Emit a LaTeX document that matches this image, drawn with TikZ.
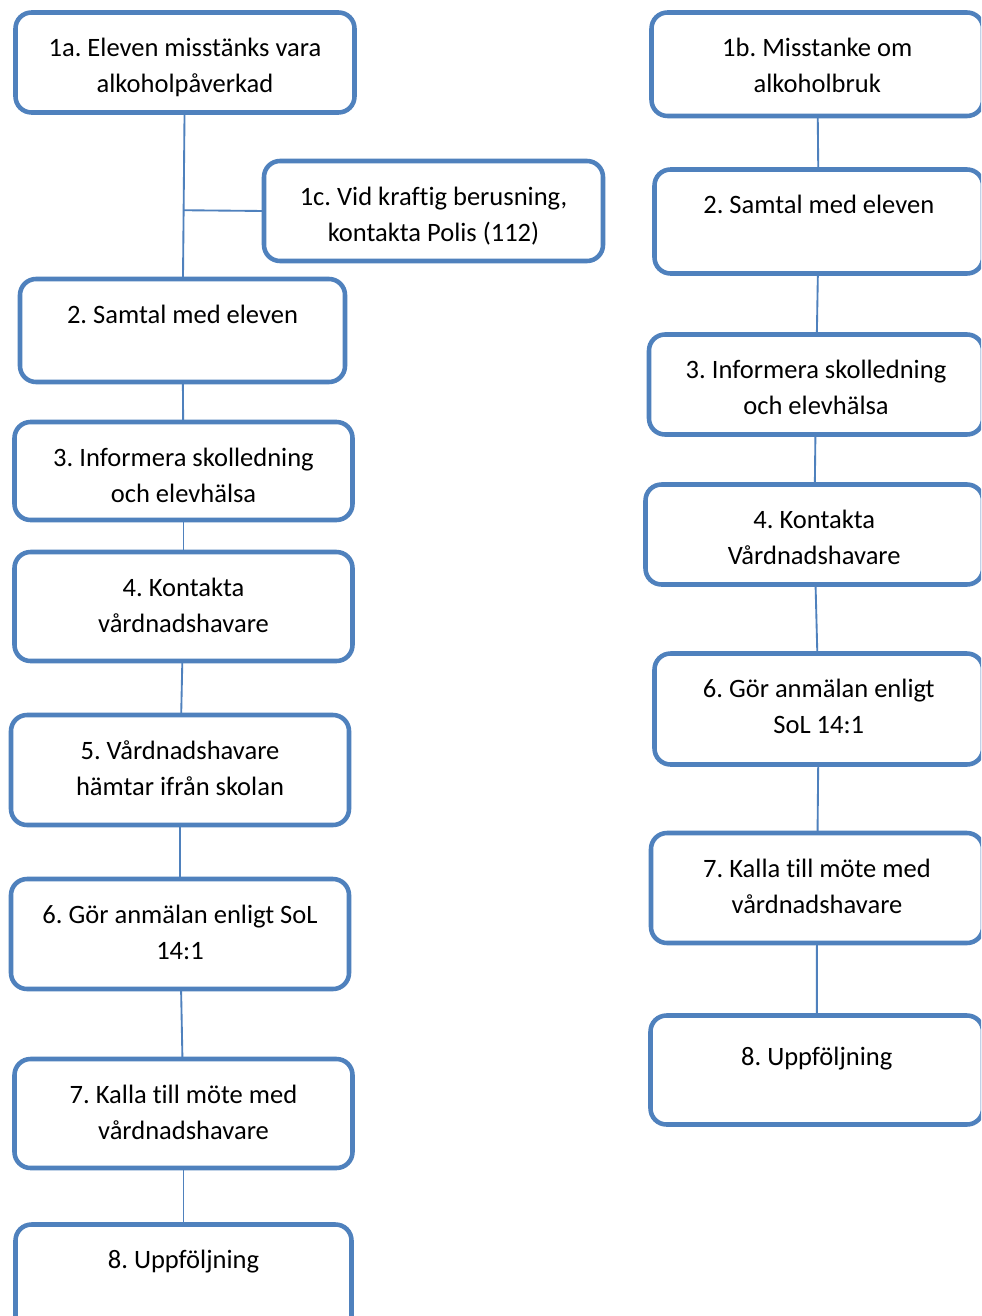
\documentclass[tikz,border=0pt]{standalone}
\usepackage{fontspec}
\setmainfont{Carlito}[Ligatures={NoCommon}]
\frenchspacing
\usetikzlibrary{calc}
\definecolor{bluebd}{HTML}{4F81BD}
\tikzset{
  box/.style={draw=bluebd, line width=3.4pt, fill=white, rounded corners=12pt,
    rectangle, inner sep=0pt, outer sep=0pt},
  bx/.style n args={2}{box, minimum width=#1*0.75pt, minimum height=#2*0.75pt},
  txt/.style={anchor=north, inner sep=0pt, align=center, text=black,
    font=\fontsize{19.9pt}{27pt}\selectfont},
  conn/.style={draw=bluebd, line width=1.4pt}
}
\begin{document}
\begin{tikzpicture}[x=0.75pt,y=-0.75pt]
\useasboundingbox (0,0) rectangle (981,1316);
\fill[white] (0,0) rectangle (981,1316);
\clip (0,0) rectangle (981,1316);

% left column
\node[bx={339}{100}] (a1) at (185,62.5) {};
\node[bx={339}{100}] (c1) at (433.5,211) {};
\node[bx={325}{103}] (b2) at (182.5,330.5) {};
\node[bx={338}{98}]  (b3) at (183.5,471) {};
\node[bx={338}{109}] (b4) at (183.5,606.5) {};
\node[bx={338}{110}] (b5) at (180,770) {};
\node[bx={338}{110}] (b6) at (180,934) {};
\node[bx={338}{109}] (b7) at (183.5,1113.5) {};
\node[bx={336}{110}] (b8) at (183.5,1279.5) {};

% right column
\node[bx={331.5}{103.5}] (r1) at (817.25,64.25) {};
\node[bx={328.5}{104}]   (r2) at (818.75,221.5) {};
\node[bx={334}{100}]     (r3) at (816,384.5) {};
\node[bx={337.5}{100}]   (r4) at (814.25,534.5) {};
\node[bx={328.5}{111}]   (r6) at (818.75,709) {};
\node[bx={332}{110}]     (r7) at (817,888) {};
\node[bx={332.5}{109}]   (r8) at (816.75,1070) {};

% texts
\node[txt] (ta1) at ([yshift=-14pt]a1.north) {\strut 1a. Eleven misstänks vara\\\strut alkoholpåverkad};
\node[txt] (tc1) at ([yshift=-14pt]c1.north) {\strut 1c. Vid kraftig berusning,\\\strut kontakta Polis (112)};
\node[txt] (tb2) at ([yshift=-14pt]b2.north) {\strut 2. Samtal med eleven};
\node[txt] (tb3) at ([yshift=-14pt]b3.north) {\strut 3. Informera skolledning\\\strut och elevhälsa};
\node[txt] (tb4) at ([yshift=-14pt]b4.north) {\strut 4. Kontakta\\\strut vårdnadshavare};
\node[txt] (tb5) at ([yshift=-14pt]b5.north) {\strut 5. Vårdnadshavare\\\strut hämtar ifrån skolan};
\node[txt] (tb6) at ([yshift=-14pt]b6.north) {\strut 6. Gör anmälan enligt SoL\\\strut 14:1};
\node[txt] (tb7) at ([yshift=-14pt]b7.north) {\strut 7. Kalla till möte med\\\strut vårdnadshavare};
\node[txt] (tb8) at ([yshift=-14pt]b8.north) {\strut 8. Uppföljning};

\node[txt] (tr1) at ([yshift=-14pt]r1.north) {\strut 1b. Misstanke om\\\strut alkoholbruk};
\node[txt] (tr2) at ([yshift=-14pt]r2.north) {\strut 2. Samtal med eleven};
\node[txt] (tr3) at ([yshift=-14pt]r3.north) {\strut 3. Informera skolledning\\\strut och elevhälsa};
\node[txt] (tr4) at ([yshift=-14pt]r4.north) {\strut 4. Kontakta\\\strut Vårdnadshavare};
\node[txt] (tr6) at ([yshift=-14pt]r6.north) {\strut 6. Gör anmälan enligt\\\strut SoL 14:1};
\node[txt] (tr7) at ([yshift=-14pt]r7.north) {\strut 7. Kalla till möte med\\\strut vårdnadshavare};
\node[txt] (tr8) at ([yshift=-18.5pt]r8.north) {\strut 8. Uppföljning};

% connectors left
\draw[conn] (a1) -- (b2);
\coordinate (j1) at ($(a1)!(c1.west)!(b2)$);
\draw[conn] (c1.west) -- (j1);
\draw[conn] (b2) -- (b3);
\draw[conn] (b3) -- (b4);
\draw[conn] (b4) -- (b5);
\draw[conn] (b5) -- (b6);
\draw[conn] (b6) -- (b7);
\draw[conn] (b7) -- (b8);

% connectors right
\draw[conn] (r1) -- (r2);
\draw[conn] (r2) -- (r3);
\draw[conn] (r3) -- (r4);
\draw[conn] (r4) -- (r6);
\draw[conn] (r6) -- (r7);
\draw[conn] (r7) -- (r8);
\end{tikzpicture}
\end{document}
